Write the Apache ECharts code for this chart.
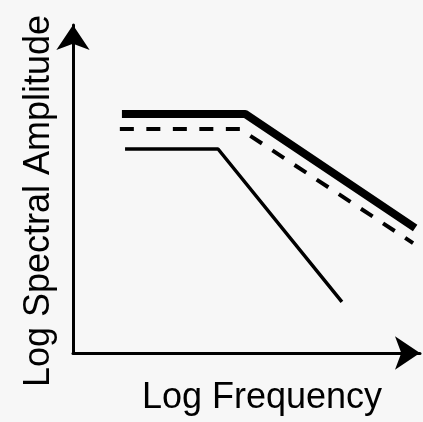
<!DOCTYPE html>
<html>
<head>
<meta charset="utf-8">
<script src="https://cdn.jsdelivr.net/npm/echarts@6/dist/echarts.min.js"></script>
<style>
html,body{margin:0;padding:0;background:#f7f7f7;}
#chart{width:423px;height:422px;}
</style>
</head>
<body>
<div id="chart"></div>
<script>
// Schematic spectra (arbitrary log units, 0-100 on each axis)
const xName = 'Log Frequency';
const yName = 'Log Spectral Amplitude';
const thickX = [14.1, 49.6, 98.6];
const thickY = [72.9, 72.9, 38.1];
const dashedX = [13.5, 48.1, 98.0];
const dashedY = [68.3, 68.3, 33.5];
const thinX = [15.0, 41.8, 77.5];
const thinY = [62.2, 62.2, 15.6];

const pairs = (xs, ys) => xs.map((x, i) => [x, ys[i]]);

const chart = echarts.init(document.getElementById('chart'));
const axisCommon = {
  type: 'value', min: 0, max: 100,
  axisTick: {show: false}, axisLabel: {show: false}, splitLine: {show: false},
  axisLine: {show: true, lineStyle: {color: '#000', width: 3}, symbol: ['none', 'arrow'], symbolSize: [25, 25]},
  nameLocation: 'middle',
  nameTextStyle: {fontFamily: 'Liberation Sans', fontSize: 36, color: '#000'}
};
chart.setOption({
  backgroundColor: '#f7f7f7',
  animation: false,
  grid: {left: 73, right: 3, top: 25, bottom: 69, containLabel: false},
  xAxis: Object.assign({}, axisCommon, {
    name: xName, nameGap: 27,
    nameTextStyle: Object.assign({}, axisCommon.nameTextStyle, {padding: [0, 0, 0, 31]})
  }),
  yAxis: Object.assign({}, axisCommon, {
    name: yName, nameGap: 16, nameRotate: 90,
    nameTextStyle: Object.assign({}, axisCommon.nameTextStyle, {padding: [0, 24, 0, 0]})
  }),
  series: [
    {type: 'line', data: pairs(thickX, thickY), showSymbol: false, lineStyle: {color: '#000', width: 8, join: 'round'}},
    {type: 'line', data: pairs(dashedX, dashedY), showSymbol: false, lineStyle: {color: '#000', width: 4, type: [14, 12.5]}},
    {type: 'line', data: pairs(thinX, thinY), showSymbol: false, lineStyle: {color: '#000', width: 3.5}}
  ]
});
</script>
</body>
</html>
